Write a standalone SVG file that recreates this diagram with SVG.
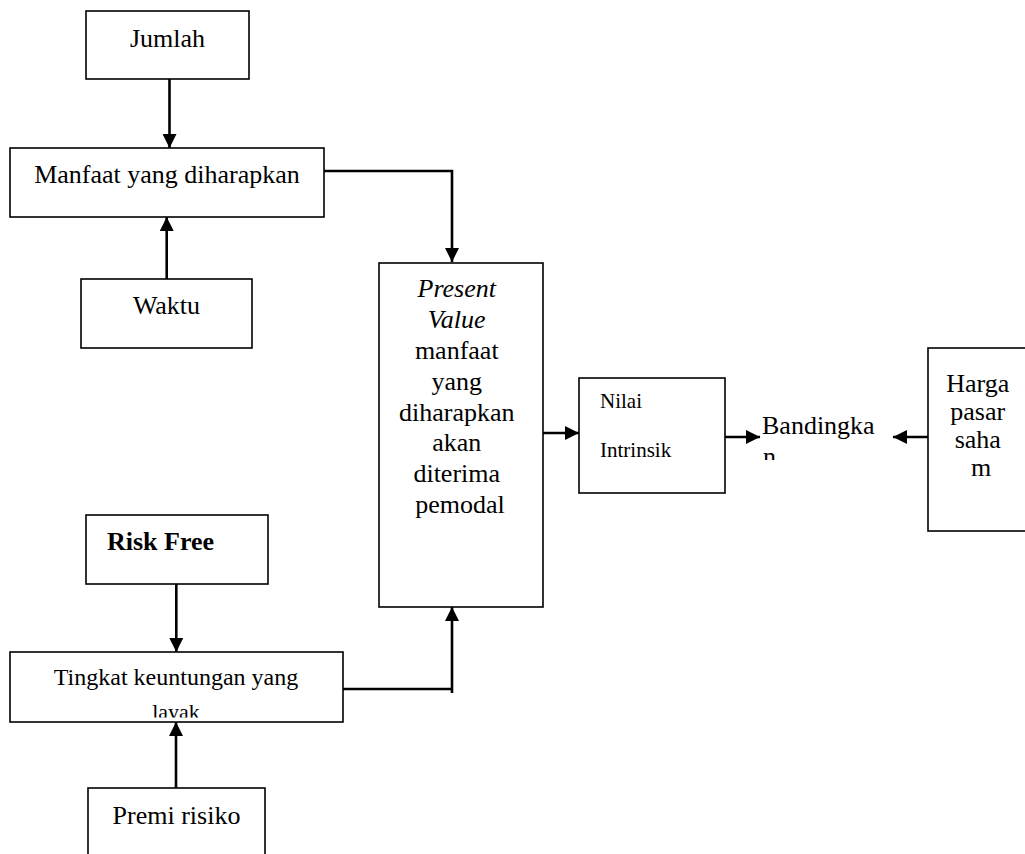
<svg xmlns="http://www.w3.org/2000/svg" width="1025" height="854" viewBox="0 0 1025 854">
<style>
.box{fill:#fff;stroke:#000;stroke-width:1.6}
.t{font-family:"Liberation Serif","Times New Roman",serif;font-size:26px;fill:#000}
.s{font-size:21px}
.c{stroke:#000;stroke-width:2.6;fill:none}
</style>
<defs>
<marker id="ah" markerUnits="userSpaceOnUse" markerWidth="14" markerHeight="14" refX="14" refY="7" orient="auto">
<path d="M0,0 L14,7 L0,14 z" fill="#000"/>
</marker>
<clipPath id="clipB"><rect x="755" y="400" width="170" height="60"/></clipPath>
<clipPath id="clipT"><rect x="10" y="652" width="333" height="65.5"/></clipPath>
</defs>
<rect width="1025" height="854" fill="#fff"/>

<g id="jumlah">
<rect class="box" x="86" y="11" width="163" height="68"/>
<text class="t" x="167.5" y="47" text-anchor="middle">Jumlah</text>
</g>
<g id="manfaat">
<rect class="box" x="10" y="148" width="314" height="69"/>
<text class="t" x="167" y="183" text-anchor="middle">Manfaat yang diharapkan</text>
</g>
<g id="waktu">
<rect class="box" x="81" y="279" width="171" height="69"/>
<text class="t" x="166.5" y="314" text-anchor="middle">Waktu</text>
</g>
<g id="present-value">
<rect class="box" x="379" y="263" width="164" height="344"/>
<text class="t" text-anchor="middle">
<tspan x="460" y="297" font-style="italic">Present</tspan>
<tspan x="460" y="328" font-style="italic">Value</tspan>
<tspan x="460" y="359">manfaat</tspan>
<tspan x="460" y="390">yang</tspan>
<tspan x="460" y="421">diharapkan</tspan>
<tspan x="460" y="451">akan</tspan>
<tspan x="460" y="482">diterima</tspan>
<tspan x="460" y="513">pemodal</tspan>
</text>
</g>
<g id="nilai-intrinsik">
<rect class="box" x="579" y="378" width="146" height="115"/>
<text class="t s" x="600" y="408">Nilai</text>
<text class="t s" x="600" y="457">Intrinsik</text>
</g>
<g id="bandingkan">
<g clip-path="url(#clipB)">
<text class="t" x="762" y="434">Bandingka</text>
<text class="t" x="763" y="465">n</text>
</g>
</g>
<g id="harga-pasar">
<rect class="box" x="928" y="348" width="110" height="183"/>
<text class="t" text-anchor="middle">
<tspan x="981" y="392">Harga</tspan>
<tspan x="981" y="420">pasar</tspan>
<tspan x="981" y="448">saha</tspan>
<tspan x="981" y="476">m</tspan>
</text>
</g>
<g id="risk-free">
<rect class="box" x="86" y="515" width="182" height="69"/>
<text class="t" x="107" y="550" font-weight="bold">Risk Free</text>
</g>
<g id="tingkat">
<rect class="box" x="10" y="652" width="333" height="70"/>
<g clip-path="url(#clipT)">
<text class="t" font-size="24" x="176" y="685" text-anchor="middle" style="font-size:24px">Tingkat keuntungan yang</text>
<text class="t" x="176" y="719" text-anchor="middle" style="font-size:22px">layak</text>
</g>
</g>
<g id="premi-risiko">
<rect class="box" x="88" y="788" width="177" height="80"/>
<text class="t" x="176.5" y="824" text-anchor="middle">Premi risiko</text>
</g>

<g id="connectors">
<path class="c" d="M169.5,79 V148" marker-end="url(#ah)"/>
<path class="c" d="M166.7,279 V217" marker-end="url(#ah)"/>
<path class="c" d="M324,171 H452 V262" marker-end="url(#ah)"/>
<path class="c" d="M343,689 H452"/>
<path class="c" d="M452,693 V607" marker-end="url(#ah)"/>
<path class="c" d="M176.3,584 V652" marker-end="url(#ah)"/>
<path class="c" d="M176,788 V722" marker-end="url(#ah)"/>
<path class="c" d="M543,433 H579" marker-end="url(#ah)"/>
<path class="c" d="M725,437 H760" marker-end="url(#ah)"/>
<path class="c" d="M928,437 H893" marker-end="url(#ah)"/>
</g>
</svg>
